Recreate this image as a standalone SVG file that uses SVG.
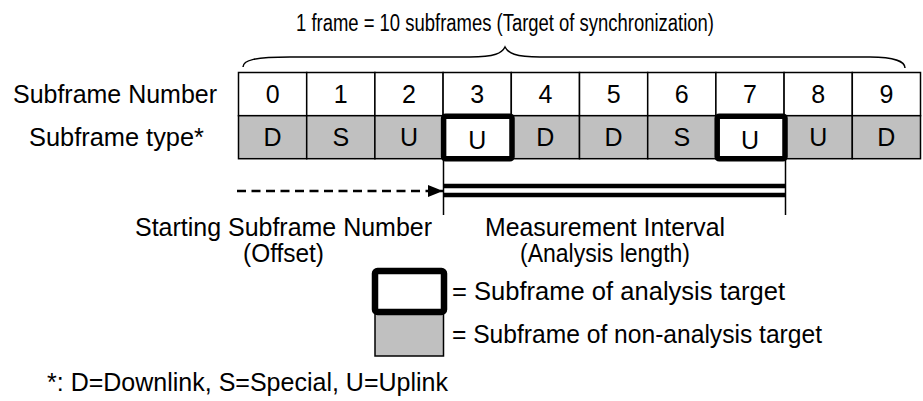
<svg xmlns="http://www.w3.org/2000/svg" width="923" height="401" viewBox="0 0 923 401">
<style>
text{font-family:"Liberation Sans",Arial,sans-serif;fill:#000;font-size:25px}
.c{text-anchor:middle}
.w{fill:#fff;stroke:#000;stroke-width:1.5}
.g{fill:#c0c0c0;stroke:#000;stroke-width:1.5}
.tk{fill:none;stroke:#000;stroke-width:5.5;stroke-linejoin:round}
.ln{fill:none;stroke:#000}
</style>
<defs>
<marker id="ah" viewBox="0 0 15 12" refX="15" refY="6" markerWidth="15" markerHeight="12" markerUnits="userSpaceOnUse" orient="auto">
<path d="M0,0 L15,6 L0,12 Z" fill="#000"/>
</marker>
</defs>
<rect width="923" height="401" fill="#fff"/>

<g id="title">
<text x="296" y="31" style="font-size:23px" textLength="418" lengthAdjust="spacingAndGlyphs">1 frame = 10 subframes (Target of synchronization)</text>
<path class="ln" stroke-width="1.5" d="M243,67 C243,60 255,57 290,57 L470,57 C495,57 502,53 505,47 C508,53 515,57 540,57 L870,57 C895,57 905,62 905,68"/>
</g>

<g id="row-labels">
<text x="13" y="103" textLength="204" lengthAdjust="spacingAndGlyphs">Subframe Number</text>
<text x="29" y="146" textLength="175" lengthAdjust="spacingAndGlyphs">Subframe type*</text>
</g>

<g id="cell-0"><rect class="w" x="238.5" y="72.5" width="68.2" height="43.2"/><rect class="g" x="238.5" y="115.7" width="68.2" height="43"/><text class="c" x="272.6" y="103">0</text><text class="c" x="272.6" y="146">D</text></g>
<g id="cell-1"><rect class="w" x="306.7" y="72.5" width="68.2" height="43.2"/><rect class="g" x="306.7" y="115.7" width="68.2" height="43"/><text class="c" x="340.8" y="103">1</text><text class="c" x="340.8" y="146">S</text></g>
<g id="cell-2"><rect class="w" x="374.9" y="72.5" width="68.2" height="43.2"/><rect class="g" x="374.9" y="115.7" width="68.2" height="43"/><text class="c" x="409" y="103">2</text><text class="c" x="409" y="146">U</text></g>
<g id="cell-3"><rect class="w" x="443.1" y="72.5" width="68.2" height="43.2"/><rect class="w" x="443.1" y="115.7" width="68.2" height="43"/><text class="c" x="477.2" y="103">3</text><text class="c" x="477.2" y="149">U</text></g>
<g id="cell-4"><rect class="w" x="511.3" y="72.5" width="68.2" height="43.2"/><rect class="g" x="511.3" y="115.7" width="68.2" height="43"/><text class="c" x="545.4" y="103">4</text><text class="c" x="545.4" y="146">D</text></g>
<g id="cell-5"><rect class="w" x="579.5" y="72.5" width="68.2" height="43.2"/><rect class="g" x="579.5" y="115.7" width="68.2" height="43"/><text class="c" x="613.6" y="103">5</text><text class="c" x="613.6" y="146">D</text></g>
<g id="cell-6"><rect class="w" x="647.7" y="72.5" width="68.2" height="43.2"/><rect class="g" x="647.7" y="115.7" width="68.2" height="43"/><text class="c" x="681.8" y="103">6</text><text class="c" x="681.8" y="146">S</text></g>
<g id="cell-7"><rect class="w" x="715.9" y="72.5" width="68.2" height="43.2"/><rect class="w" x="715.9" y="115.7" width="68.2" height="43"/><text class="c" x="750" y="103">7</text><text class="c" x="750" y="149">U</text></g>
<g id="cell-8"><rect class="w" x="784.1" y="72.5" width="68.2" height="43.2"/><rect class="g" x="784.1" y="115.7" width="68.2" height="43"/><text class="c" x="818.2" y="103">8</text><text class="c" x="818.2" y="146">U</text></g>
<g id="cell-9"><rect class="w" x="852.3" y="72.5" width="68.2" height="43.2"/><rect class="g" x="852.3" y="115.7" width="68.2" height="43"/><text class="c" x="886.4" y="103">9</text><text class="c" x="886.4" y="146">D</text></g>

<g id="targets">
<rect class="tk" x="443.6" y="116.2" width="68.4" height="42.6" rx="2"/>
<rect class="tk" x="717.2" y="116.2" width="67.8" height="42.6" rx="2"/>
</g>

<g id="connectors">
<line class="ln" stroke-width="1.5" x1="443.5" y1="159" x2="443.5" y2="215"/>
<line class="ln" stroke-width="1.5" x1="785.5" y1="159" x2="785.5" y2="215"/>
<line class="ln" stroke-width="4.5" x1="443.5" y1="186" x2="785.5" y2="186"/>
<line class="ln" stroke-width="4.5" x1="443.5" y1="195" x2="785.5" y2="195"/>
<line class="ln" stroke-width="2.5" stroke-dasharray="9,5.5" x1="237" y1="191" x2="443" y2="191" marker-end="url(#ah)"/>
</g>

<g id="interval-labels">
<text x="135" y="236" textLength="297" lengthAdjust="spacingAndGlyphs">Starting Subframe Number</text>
<text x="243" y="262" textLength="81" lengthAdjust="spacingAndGlyphs">(Offset)</text>
<text x="485" y="236" textLength="240" lengthAdjust="spacingAndGlyphs">Measurement Interval</text>
<text x="520" y="262" textLength="170" lengthAdjust="spacingAndGlyphs">(Analysis length)</text>
</g>

<g id="legend">
<rect class="g" x="375" y="312" width="68.5" height="44"/>
<rect class="tk" style="stroke-width:6.5" x="375" y="271" width="69" height="41" rx="2.5" fill="#fff"/>
<text x="452" y="300" textLength="333" lengthAdjust="spacingAndGlyphs">= Subframe of analysis target</text>
<text x="452" y="343" textLength="370" lengthAdjust="spacingAndGlyphs">= Subframe of non-analysis target</text>
</g>

<g id="footnote">
<text x="47" y="391" textLength="401" lengthAdjust="spacingAndGlyphs">*: D=Downlink, S=Special, U=Uplink</text>
</g>
</svg>
